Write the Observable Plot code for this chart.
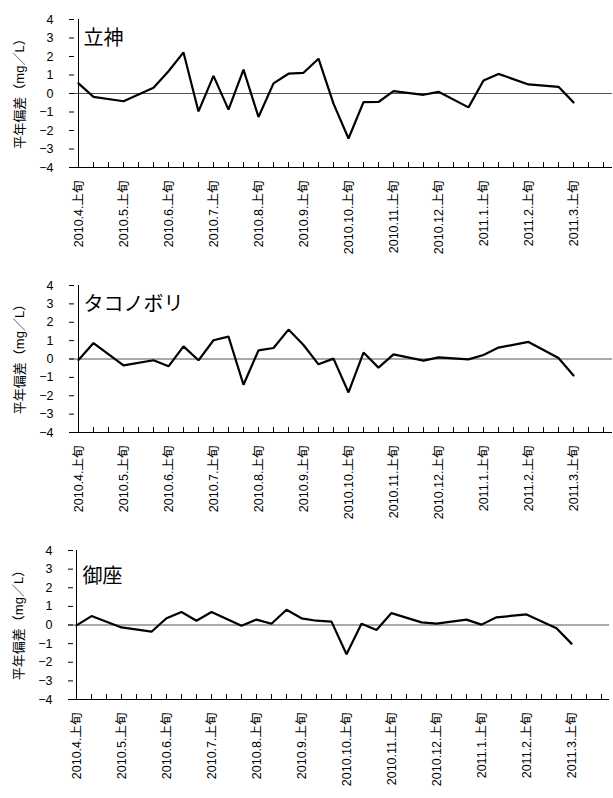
<!DOCTYPE html>
<html>
<head>
<meta charset="utf-8">
<script src="https://cdn.jsdelivr.net/npm/d3@7"></script>
<script src="https://cdn.jsdelivr.net/npm/@observablehq/plot@0.6"></script>
<style>
  html, body { margin: 0; padding: 0; background: #fff; }
  #chart { width: 613px; }
  #chart svg { display: block; }
</style>
</head>
<body>
<div id="chart"></div>
<script>
// ---- data ----
const months = ["2010.4","2010.5","2010.6","2010.7","2010.8","2010.9","2010.10","2010.11","2010.12","2011.1","2011.2","2011.3"];
const dekads = ["上旬","中旬","下旬"];
const stations = ["立神","タコノボリ","御座"];
const yLabel = "平年偏差（mg／L）";
const yTicks = [-4,-3,-2,-1,0,1,2,3,4];

// anomaly values per dekad (null = no observation)
const tategami = [0.55,-0.18,null,-0.42,null,0.31, 1.2,2.22,-0.97, 0.95,-0.87,1.29, -1.27,0.55,1.07, 1.12,1.88,-0.55,
                  -2.43,-0.47,-0.46, 0.13,null,-0.07, 0.09,null,-0.75, 0.7,1.06,null, 0.49,null,0.36, -0.48,null,null];
const takonobori = [-0.05,0.87,null,-0.35,null,-0.07, -0.4,0.69,-0.07, 1.02,1.22,-1.4, 0.47,0.6,1.6, 0.76,-0.29,0.02,
                    -1.82,0.35,-0.47, 0.25,null,-0.09, 0.09,null,-0.02, 0.22,0.62,null, 0.93,null,0.05, -0.9,null,null];
const goza = [-0.02,0.48,null,-0.13,null,-0.36, 0.36,0.7,0.23, 0.7,null,-0.04, 0.29,0.07,0.82, 0.36,0.23,0.18,
              -1.57,0.07,-0.27, 0.64,null,0.14, 0.07,null,0.29, 0.02,0.41,null, 0.57,null,-0.18, -1.0,null,null];
const series = [tategami, takonobori, goza];

// ---- layout ----
const categories = months.flatMap(m => dekads.map(d => `${m}.${d}`));
const labelled = categories.filter(c => c.endsWith("上旬"));
const layouts = [
  {marginTop: 19, marginBottom: 99, marginLeft: 69, marginRight: 1, nameDy: 19},
  {marginTop: 19, marginBottom: 100, marginLeft: 69, marginRight: 1, nameDy: 19},
  {marginTop: 18, marginBottom: 99, marginLeft: 68, marginRight: 4, nameDy: 26}
];
const font = '"Liberation Sans", Arial, "Noto Sans CJK JP", sans-serif';

const root = document.getElementById("chart");
series.forEach((vals, k) => {
  const L = layouts[k];
  const pts = categories.map((c, i) => ({cat: c, v: vals[i]})).filter(d => d.v != null);
  const chart = Plot.plot({
    width: 613,
    height: 266,
    marginTop: L.marginTop,
    marginBottom: L.marginBottom,
    marginLeft: L.marginLeft,
    marginRight: L.marginRight,
    style: {fontFamily: font, fontSize: "12.5px", color: "#000", background: "#fff"},
    x: {type: "point", domain: categories, padding: 0},
    y: {domain: [-4, 4]},
    marks: [
      Plot.ruleY([0], {stroke: "#555", strokeWidth: 1}),
      Plot.line(pts, {x: "cat", y: "v", stroke: "#000", strokeWidth: 2.2, strokeLinejoin: "miter"}),
      Plot.ruleX([categories[0]], {stroke: "#000", strokeWidth: 1}),
      Plot.ruleY([-4], {stroke: "#000", strokeWidth: 1}),
      Plot.axisY({ticks: yTicks, tickSize: -5, tickPadding: 21, tickFormat: d => d < 0 ? "−" + Math.abs(d) : String(d),
                  label: null, fontSize: 12.5}),
      Plot.axisX({ticks: categories, tickSize: -5, tickFormat: () => "", label: null}),
      Plot.axisX({ticks: labelled, tickSize: 0, tickPadding: 13, tickRotate: -90,
                  label: null, fontSize: 12.5}),
      Plot.text([yLabel], {frameAnchor: "left", dx: -50, dy: -3, rotate: -90, fontSize: 13, textAnchor: "middle",
                           lineAnchor: "middle", fill: "#000"}),
      Plot.text([stations[k]], {frameAnchor: "top-left", dx: 14, dy: L.nameDy, fontSize: 20,
                                textAnchor: "start", lineAnchor: "middle", fill: "#000"})
    ]
  });
  root.appendChild(chart);
});
</script>
</body>
</html>
